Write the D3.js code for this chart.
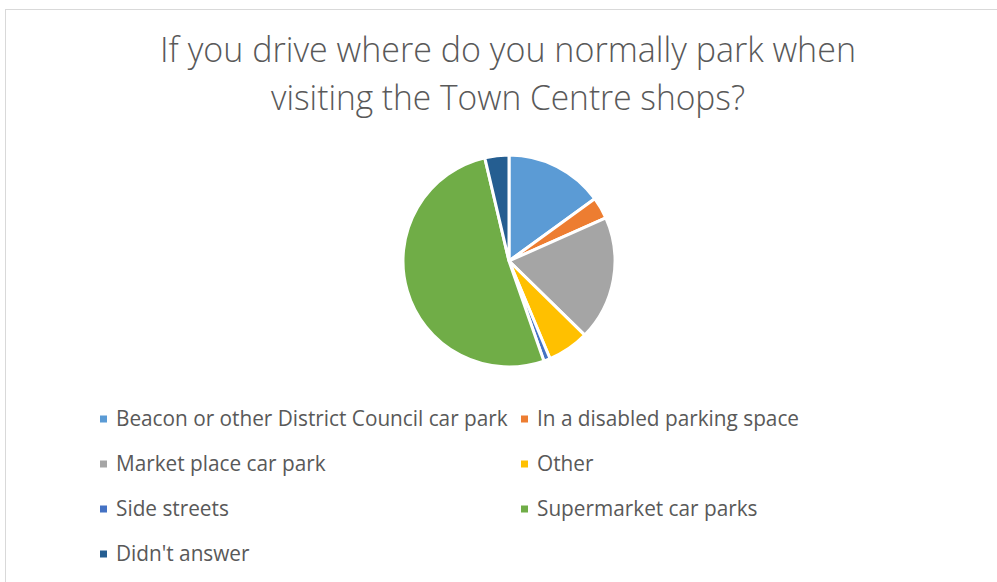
<!DOCTYPE html>
<html>
<head>
<meta charset="utf-8">
<script src="https://cdn.jsdelivr.net/npm/d3@7"></script>
<style>
  body { margin: 0; background: #fff; }
  svg text { font-family: "Open Sans", "Noto Sans", sans-serif; fill: #595959; }
</style>
</head>
<body>
<svg id="chart"></svg>
<script>
const categories = ["Beacon or other District Council car park", "In a disabled parking space",
  "Market place car park", "Other", "Side streets", "Supermarket car parks", "Didn't answer"];
const counts = [45, 10, 57, 19, 3, 155, 11];
const colors = ["#5B9BD5", "#ED7D31", "#A5A5A5", "#FFC000", "#4472C4", "#70AD47", "#255E91"];
const titleLines = ["If you drive where do you normally park when", "visiting the Town Centre shops?"];

const svgWidth = 997, svgHeight = 582;
const svg = d3.select("#chart").attr("width", svgWidth).attr("height", svgHeight);

// chart frame (cut off on right / bottom like the screenshot)
svg.append("rect")
  .attr("x", 5.5).attr("y", 9.5)
  .attr("width", 1100).attr("height", 700)
  .attr("fill", "none").attr("stroke", "#d9d9d9").attr("stroke-width", 1);

// title
const titleWidths = [696, 474];
titleLines.forEach(function(t, i) {
  svg.append("text")
    .attr("x", 508).attr("y", 62 + i * 48)
    .attr("text-anchor", "middle")
    .style("font-size", "35px")
    .style("font-weight", 300)
    .attr("textLength", titleWidths[i])
    .attr("lengthAdjust", "spacingAndGlyphs")
    .text(t);
});

// pie
const data = categories.map(function(c, i) { return {name: c, value: counts[i]}; });
const pie = d3.pie().value(function(d) { return d.value; }).sort(null);
const arc = d3.arc().innerRadius(0).outerRadius(106);
const color = d3.scaleOrdinal().domain(categories).range(colors);

svg.append("g")
  .attr("transform", "translate(509,261)")
  .selectAll("path")
  .data(pie(data))
  .enter()
  .append("path")
  .attr("d", arc)
  .attr("fill", function(d) { return color(d.data.name); })
  .attr("stroke", "#fff")
  .attr("stroke-width", 3)
  .attr("stroke-linejoin", "round");

// legend, two columns
const legend = svg.append("g");
const item = legend.selectAll("g.item")
  .data(categories)
  .enter()
  .append("g")
  .attr("class", "item")
  .attr("transform", function(d, i) {
    const col = i % 2, row = Math.floor(i / 2);
    return "translate(" + (col == 0 ? 100 : 521) + "," + (419 + row * 45) + ")";
  });

item.append("rect")
  .attr("x", 0).attr("y", -3.5)
  .attr("width", 7).attr("height", 7)
  .attr("fill", function(d) { return color(d); });

const labels = item.append("text")
  .attr("x", 0).attr("y", 0)
  .attr("dy", "0.35em")
  .style("font-size", "21px")
  .text(function(d) { return d; });

// squeeze text to calibri-like width: first label spans ~392px in the reference
const w0 = labels.nodes()[0].getComputedTextLength();
const k = 392 / w0;
labels.attr("transform", "translate(16,0) scale(" + k + ",1)");
</script>
</body>
</html>
